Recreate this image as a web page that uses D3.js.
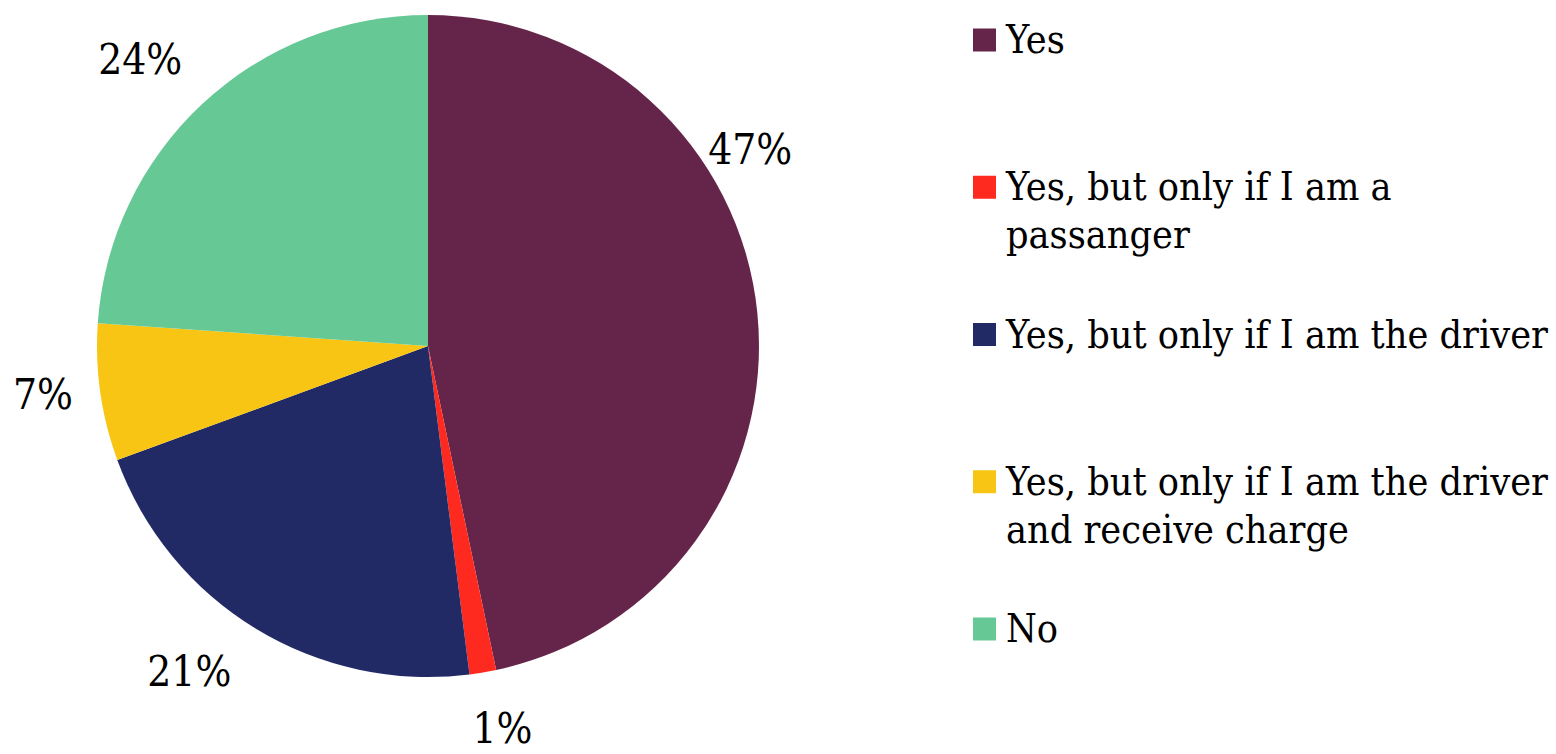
<!DOCTYPE html>
<html>
<head>
<meta charset="utf-8">
<script src="https://cdn.jsdelivr.net/npm/d3@7"></script>
<style>
  html, body { margin: 0; padding: 0; background: #ffffff; }
  svg { display: block; }
  text { font-family: "DejaVu Serif Condensed", "DejaVu Serif", "Liberation Serif", serif; fill: #000; }
</style>
</head>
<body>
<svg id="chart" width="1556" height="754"></svg>
<script>
// ---- data ----
const categories = [
  "Yes",
  "Yes, but only if I am a passanger",
  "Yes, but only if I am the driver",
  "Yes, but only if I am the driver and receive charge",
  "No"
];
const legendLines = [
  ["Yes"],
  ["Yes, but only if I am a", "passanger"],
  ["Yes, but only if I am the driver"],
  ["Yes, but only if I am the driver", "and receive charge"],
  ["No"]
];
const values = [46.7, 1.3, 21.4, 6.7, 23.9];
const colors = ["#65254A", "#FF2A1F", "#222A66", "#F9C514", "#66C995"];

// ---- layout ----
const W = 1556, H = 754;
const cx = 428, cy = 346, R = 331;
const svg = d3.select("#chart");

const pie = d3.pie().sort(null).value(d => d)(values);
const arc = d3.arc().innerRadius(0).outerRadius(R);

const g = svg.append("g").attr("transform", `translate(${cx},${cy})`);
g.selectAll("path").data(pie).enter().append("path")
  .attr("d", arc)
  .attr("fill", (d, i) => colors[i]);

// percent labels (outside end, first label shifted as in the reference)
const total = d3.sum(values);
const labelRadius = [378, 389, 403, 388, 407];
const labelAngleShift = [-25.6, -1.5, 5, 1, -2]; // degrees
const labelG = g.append("g");
const labels = labelG.selectAll("text").data(pie).enter().append("text")
  .attr("text-anchor", "middle")
  .attr("dominant-baseline", "central")
  .text(d => Math.round(d.value / total * 100) + "%");

// fit label font size so "47%" ~ 84px wide
let lfs = 40;
labels.attr("font-size", lfs);
const w0 = labels.nodes()[0].getComputedTextLength();
lfs = lfs * 84 / w0;
labels.attr("font-size", lfs)
  .attr("x", (d, i) => {
    const a = (d.startAngle + d.endAngle) / 2 + labelAngleShift[i] * Math.PI / 180;
    return Math.sin(a) * labelRadius[i];
  })
  .attr("y", (d, i) => {
    const a = (d.startAngle + d.endAngle) / 2 + labelAngleShift[i] * Math.PI / 180;
    return -Math.cos(a) * labelRadius[i] + 1;
  });

// ---- legend ----
const legendY = d3.scalePoint().domain(categories).range([53, 642]);
const sq = 23, sqX = 973, textX = 1006, lineH = 48;
const leg = svg.append("g");
const items = leg.selectAll("g").data(categories).enter().append("g");
items.append("rect")
  .attr("x", sqX)
  .attr("y", d => legendY(d) - 13 - sq / 2)
  .attr("width", sq).attr("height", sq)
  .attr("fill", (d, i) => colors[i]);
const texts = items.append("text")
  .attr("x", textX)
  .attr("y", d => legendY(d));
texts.selectAll("tspan").data((d, i) => legendLines[i]).enter().append("tspan")
  .attr("x", textX)
  .attr("dy", (d, j) => j === 0 ? 0 : lineH)
  .text(d => d);

// fit legend font size so longest line ~ 542px
let fs = 38;
texts.attr("font-size", fs);
const probe = items.filter((d, i) => i === 2).select("tspan").node();
const pw = probe.getComputedTextLength();
fs = fs * 542 / pw;
texts.attr("font-size", fs);
</script>
</body>
</html>
